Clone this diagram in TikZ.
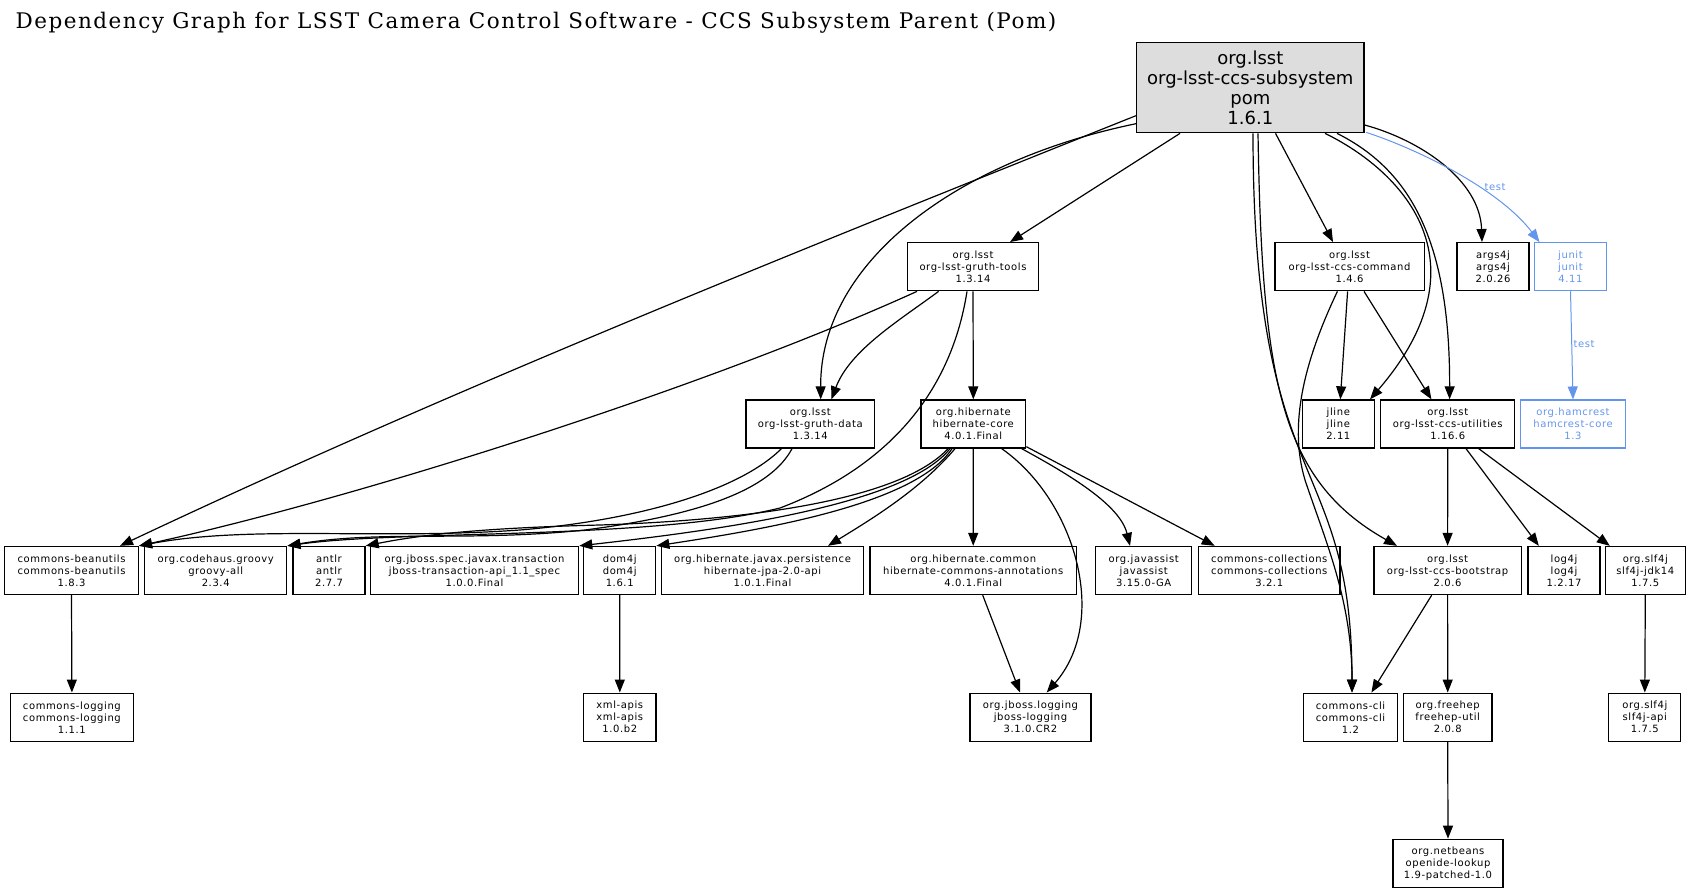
\documentclass[tikz,border=0pt]{standalone}
\usepackage{fontspec}
\setmainfont{DejaVu Sans}
\newfontfamily\nodefont[LetterSpace=6]{DejaVu Sans}
\newfontfamily\titlefont[LetterSpace=7]{DejaVu Serif}
\usetikzlibrary{arrows.meta,calc}
\definecolor{testblue}{RGB}{100,149,237}
\definecolor{rootgray}{RGB}{221,221,221}
\begin{document}
\begin{tikzpicture}[x=1pt,y=-1pt,
  box/.style={draw, line width=1.33pt, inner sep=0pt, minimum height=48pt, align=center,
    font=\nodefont\fontsize{10}{12}\selectfont},
  testbox/.style={box, draw=testblue, text=testblue, line width=1.1pt},
  edge/.style={line width=1.2pt, -{Triangle[length=13pt,width=10pt]}},
  testedge/.style={edge, color=testblue, line width=1pt},
  lbl/.style={inner sep=0pt, text=testblue, font=\nodefont\fontsize{10}{12}\selectfont}]
\useasboundingbox (0,0) rectangle (1691,893);
\node[anchor=base west, inner sep=0pt, font=\titlefont\fontsize{21.5}{24}\selectfont] (title) at (15.4,29)
  {Dependency Graph for LSST Camera Control Software - CCS Subsystem Parent (Pom)};
% root
\node[draw, fill=rootgray, line width=1.33pt, inner sep=0pt, minimum width=227.3pt, minimum height=90pt,
  align=center, font=\fontsize{18}{20}\selectfont] (root) at (1250.3,87.7)
  {org.lsst\\org-lsst-ccs-subsystem\\pom\\1.6.1};
% row 1
\node[box, minimum width=131pt] (gtools) at (973,266.7) {org.lsst\\org-lsst-gruth-tools\\1.3.14};
\node[box, minimum width=149.3pt] (ccscmd) at (1349.5,266.7) {org.lsst\\org-lsst-ccs-command\\1.4.6};
\node[box, minimum width=72pt] (args4j) at (1493,266.7) {args4j\\args4j\\2.0.26};
\node[testbox, minimum width=72pt] (junit) at (1570.5,266.7) {junit\\junit\\4.11};
% row 2
\node[box, minimum width=128.6pt] (gdata) at (810.3,424) {org.lsst\\org-lsst-gruth-data\\1.3.14};
\node[box, minimum width=104.7pt] (hcore) at (973.3,424) {org.hibernate\\hibernate-core\\4.0.1.Final};
\node[box, minimum width=71.8pt] (jline) at (1338.3,424) {jline\\jline\\2.11};
\node[box, minimum width=134pt] (ccsutil) at (1447.7,424) {org.lsst\\org-lsst-ccs-utilities\\1.16.6};
\node[testbox, minimum width=105pt] (hamcrest) at (1573,424) {org.hamcrest\\hamcrest-core\\1.3};
% row 3
\node[box, minimum width=134.3pt] (beanutils) at (71.5,570.5) {commons-beanutils\\commons-beanutils\\1.8.3};
\node[box, minimum width=142.2pt] (groovy) at (215.7,570.5) {org.codehaus.groovy\\groovy-all\\2.3.4};
\node[box, minimum width=72pt] (antlr) at (329,570.5) {antlr\\antlr\\2.7.7};
\node[box, minimum width=208.2pt] (jbossspec) at (474.5,570.5) {org.jboss.spec.javax.transaction\\jboss-transaction-api\_1.1\_spec\\1.0.0.Final};
\node[box, minimum width=72pt] (dom4j) at (619.7,570.5) {dom4j\\dom4j\\1.6.1};
\node[box, minimum width=202.2pt] (jpa) at (762.5,570.5) {org.hibernate.javax.persistence\\hibernate-jpa-2.0-api\\1.0.1.Final};
\node[box, minimum width=206.4pt] (hca) at (973.2,570.5) {org.hibernate.common\\hibernate-commons-annotations\\4.0.1.Final};
\node[box, minimum width=96pt] (javassist) at (1143.7,570.5) {org.javassist\\javassist\\3.15.0-GA};
\node[box, minimum width=141.7pt] (collections) at (1269.2,570.5) {commons-collections\\commons-collections\\3.2.1};
\node[box, minimum width=147.5pt] (bootstrap) at (1447.6,570.5) {org.lsst\\org-lsst-ccs-bootstrap\\2.0.6};
\node[box, minimum width=72pt] (log4j) at (1564,570.5) {log4j\\log4j\\1.2.17};
\node[box, minimum width=79.8pt] (jdk14) at (1645.3,570.5) {org.slf4j\\slf4j-jdk14\\1.7.5};
% row 4
\node[box, minimum width=122.8pt] (clogging) at (71.9,717.2) {commons-logging\\commons-logging\\1.1.1};
\node[box, minimum width=72.2pt] (xmlapis) at (619.8,717.2) {xml-apis\\xml-apis\\1.0.b2};
\node[box, minimum width=120.7pt] (jbosslog) at (1030.5,717.2) {org.jboss.logging\\jboss-logging\\3.1.0.CR2};
\node[box, minimum width=94pt] (cli) at (1350.5,717.2) {commons-cli\\commons-cli\\1.2};
\node[box, minimum width=88.6pt] (freehep) at (1447.7,717.2) {org.freehep\\freehep-util\\2.0.8};
\node[box, minimum width=72pt] (slf4japi) at (1644.8,717.2) {org.slf4j\\slf4j-api\\1.7.5};
% row 5
\node[box, minimum width=110pt] (netbeans) at (1448,863.3) {org.netbeans\\openide-lookup\\1.9-patched-1.0};

% root edges
\draw[edge] ($(root.south)+(-70.3,0)$) -- ($(gtools.north)+(37,0)$);
\draw[edge] ($(root.west)+(0,36)$) .. controls (960,160) and (820,260) .. ($(gdata.north)+(10.4,0)$);
\draw[edge] ($(root.west)+(0,28)$) .. controls (800,250) and (450,390) .. ($(beanutils.north)+(48.5,0)$);
\draw[edge] ($(root.south)+(25.2,0)$) -- ($(ccscmd.north)+(-16.5,0)$);
\draw[edge] ($(root.south)+(74.7,0)$) .. controls (1400,170) and (1490,260) .. ($(jline.north)+(31.7,0)$);
\draw[edge] ($(root.south)+(86.7,0)$) .. controls (1410,170) and (1450,240) .. ($(ccsutil.north)+(1.9,0)$);
\draw[edge] ($(root.south)+(7.7,0)$) .. controls (1262,380) and (1280,480) .. ($(bootstrap.north)+(-50.6,0)$);
\draw[edge] ($(root.south)+(2.7,0)$) .. controls (1253,500) and (1352,450) .. ($(cli.north)+(1.5,0)$);
\draw[edge] ($(root.east)+(0,37.3)$) .. controls (1420,140) and (1480,180) .. ($(args4j.north)+(-11,0)$);
\draw[testedge] ($(root.south east)+(1.6,-1)$) .. controls (1420,150) and (1500,190) .. ($(junit.north)+(-31,0)$);
\node[lbl] (test1) at (1495,187) {test};
% gruth-tools edges
\draw[edge] ($(gtools.south)+(-34.4,0)$) .. controls (900,320) and (850,350) .. ($(gdata.north)+(21.1,0)$);
\draw[edge] (gtools.south) -- (hcore.north);
\draw[edge] ($(gtools.south)+(-56,0)$) .. controls (700,390) and (350,500) .. ($(beanutils.north)+(67.5,0)$);
\draw[edge] ($(gtools.south)+(-6,0)$) .. controls (950,400) and (880,470) .. (780,508) .. controls (650,540) and (400,530) .. (groovy.north east);
% gruth-data edges
\draw[edge] ($(gdata.south)+(-28.9,0)$) .. controls (740,490) and (640,520) .. (520,530) .. controls (380,540) and (250,525) .. ($(beanutils.north)+(67.5,0)$);
\draw[edge] ($(gdata.south)+(-18.3,0)$) .. controls (770,490) and (700,515) .. (585,530) .. controls (470,542) and (380,530) .. (groovy.north east);
% hibernate-core edges
\draw[edge] ($(hcore.south)+(-25.3,0)$) .. controls (900,500) and (750,520) .. (600,525) .. controls (480,528) and (420,535) .. (antlr.north east);
\draw[edge] ($(hcore.south)+(-23.3,0)$) .. controls (905,505) and (720,530) .. (jbossspec.north east);
\draw[edge] ($(hcore.south)+(-21.3,0)$) .. controls (915,505) and (760,530) .. (dom4j.north east);
\draw[edge] ($(hcore.south)+(-18.3,0)$) .. controls (920,490) and (870,520) .. ($(jpa.north)+(65.5,0)$);
\draw[edge] (hcore.south) -- (hca.north);
\draw[edge] ($(hcore.south)+(28.4,0)$) .. controls (1075,500) and (1110,620) .. ($(jbosslog.north)+(16.2,0)$);
\draw[edge] ($(hcore.south)+(48.4,0)$) .. controls (1070,475) and (1120,505) .. ($(javassist.north)+(-13.7,0)$);
\draw[edge] ($(hcore.south east)+(0,-2)$) -- ($(collections.north)+(-54.5,0)$);
\draw[edge] ($(hca.south)+(9.5,0)$) -- ($(jbosslog.north)+(-10.5,0)$);
% ccs-command edges
\draw[edge] ($(ccscmd.south)+(-1.9,0)$) -- ($(jline.north)+(2,0)$);
\draw[edge] ($(ccscmd.south)+(14.5,0)$) -- ($(ccsutil.north)+(-16.3,0)$);
\draw[edge] ($(ccscmd.south)+(-12.1,0)$) .. controls (1300,370) and (1290,430) .. (1305,480) .. controls (1325,540) and (1352,600) .. ($(cli.north)+(1.5,0)$);
% ccs-utilities edges
\draw[edge] (ccsutil.south) -- (bootstrap.north);
\draw[edge] ($(ccsutil.south)+(18.3,0)$) -- ($(log4j.north)+(-25.2,0)$);
\draw[edge] ($(ccsutil.south)+(31,0)$) -- ($(jdk14.north)+(-35.5,0)$);
% lower edges
\draw[edge] ($(bootstrap.south)+(-15.9,0)$) -- ($(cli.north)+(20.9,0)$);
\draw[edge] (bootstrap.south) -- (freehep.north);
\draw[edge] (freehep.south) -- (netbeans.north);
\draw[edge] (jdk14.south) -- (slf4japi.north);
\draw[testedge] (junit.south) -- (hamcrest.north);
\node[lbl] (test2) at (1584,344) {test};
\draw[edge] (beanutils.south) -- (clogging.north);
\draw[edge] (dom4j.south) -- (xmlapis.north);
\end{tikzpicture}
\end{document}
